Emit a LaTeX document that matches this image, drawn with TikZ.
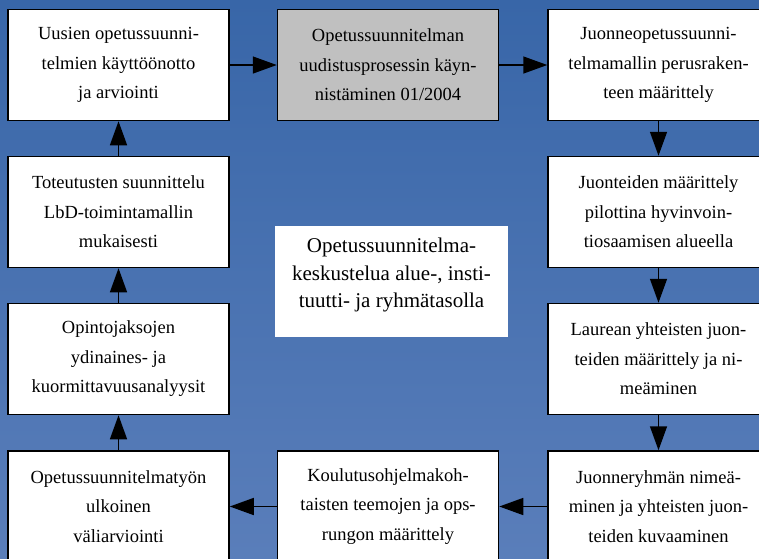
\documentclass[tikz,border=0pt]{standalone}
\usepackage{fontspec}
\setmainfont{Liberation Serif}
\usetikzlibrary{positioning,arrows.meta}
\definecolor{bgtop}{RGB}{56,102,168}
\definecolor{bgbottom}{RGB}{90,126,186}
\definecolor{startgray}{RGB}{192,192,192}
\tikzset{font=\fontsize{18.5}{29.5}\selectfont}

\begin{document}
\begin{tikzpicture}[x=1pt, y=-1pt,
	phase/.style={draw=black, line width=1.5pt, fill=white, minimum width=221pt, minimum height=111pt, align=center, inner sep=2pt},
	flow/.style={-{Triangle[length=24pt, width=17pt]}, line width=1.5pt}]
	\fill[top color=bgtop, bottom color=bgbottom] (0,0) rectangle (759,558);
	\useasboundingbox (0,0) rectangle (759,558);

	\node[phase] (uusi) at (118.5, 65) {Uusien opetussuunni-\\telmien käyttöönotto\\ja arviointi};
	\node[phase, fill=startgray] (start) at (388, 65) {Opetussuunnitelman\\uudistusprosessin käyn-\\nistäminen 01/2004};
	\node[phase] (runko) at (658.5, 65) {Juonneopetussuunni-\\telmamallin perusraken-\\teen määrittely};

	\node[phase] (toteutus) at (118.5, 212) {Toteutusten suunnittelu\\LbD-toimintamallin\\mukaisesti};
	\node[phase] (pilotti) at (658.5, 212) {Juonteiden määrittely\\pilottina hyvinvoin-\\tiosaamisen alueella};

	\node[phase] (analyysit) at (118.5, 359) {Opintojaksojen\\ydinaines- ja\\kuormittavuusanalyysit};
	\node[phase] (laurea) at (658.5, 359) {Laurean yhteisten juon-\\teiden määrittely ja ni-\\meäminen};

	\node[phase] (arviointi) at (118.5, 506.5) {Opetussuunnitelmatyön\\ulkoinen\\väliarviointi};
	\node[phase] (teemat) at (388, 506.5) {Koulutusohjelmakoh-\\taisten teemojen ja ops-\\rungon määrittely};
	\node[phase] (ryhma) at (658.5, 506.5) {Juonneryhmän nimeä-\\minen ja yhteisten juon-\\teiden kuvaaminen};

	\node[fill=white, minimum width=233pt, minimum height=111pt, align=center, font=\fontsize{21}{27.5}\selectfont] (keskustelu) at (391.5, 281.5) {Opetussuunnitelma-\\keskustelua alue-, insti-\\tuutti- ja ryhmätasolla\\[-10.5pt]};

	\draw[flow] (uusi) -- (start);
	\draw[flow] (start) -- (runko);
	\draw[flow] (runko) -- (pilotti);
	\draw[flow] (pilotti) -- (laurea);
	\draw[flow] (laurea) -- (ryhma);
	\draw[flow] (ryhma) -- (teemat);
	\draw[flow] (teemat) -- (arviointi);
	\draw[flow] (arviointi) -- (analyysit);
	\draw[flow] (analyysit) -- (toteutus);
	\draw[flow] (toteutus) -- (uusi);
\end{tikzpicture}
\end{document}
